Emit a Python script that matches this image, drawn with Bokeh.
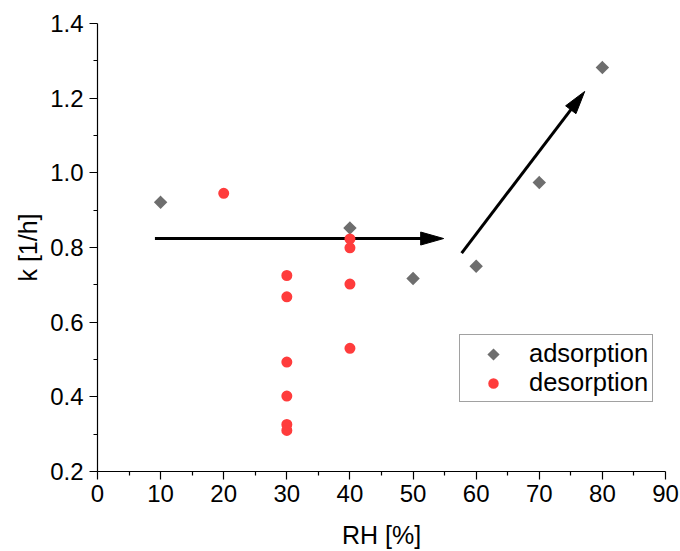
import numpy as np
from bokeh.plotting import figure
from bokeh.models import FixedTicker, PrintfTickFormatter, Range1d, Legend, LegendItem
from bokeh.embed import file_html
from bokeh.resources import INLINE

# ---- data ----
ads_rh = [10, 40, 50, 60, 70, 80]
ads_k = [0.921, 0.852, 0.717, 0.750, 0.974, 1.282]
des_rh = [20, 30, 30, 30, 30, 30, 30, 40, 40, 40, 40]
des_k = [0.945, 0.725, 0.668, 0.493, 0.402, 0.326, 0.310, 0.823, 0.799, 0.702, 0.530]

x_ticks = [0, 10, 20, 30, 40, 50, 60, 70, 80, 90]
y_ticks = [0.2, 0.4, 0.6, 0.8, 1.0, 1.2, 1.4]

# arrows (annotation): start x, start y, tip x, tip y
arrow_x0 = [9.1, 57.7]
arrow_y0 = [0.824, 0.785]
arrow_x1 = [54.85, 77.2]
arrow_y1 = [0.824, 1.218]

FONT = "Liberation Sans"
W, H = 680, 551
ML, MR, MT, MB = 97, 15, 23, 80
XMIN, XMAX, YMIN, YMAX = 0, 90, 0.2, 1.4

p = figure(width=W, height=H, output_backend="svg", toolbar_location=None,
           x_range=Range1d(XMIN, XMAX), y_range=Range1d(YMIN, YMAX),
           min_border_left=ML, min_border_right=MR, min_border_top=MT, min_border_bottom=MB)
p.grid.visible = False
p.outline_line_color = None
p.background_fill_color = "white"

# axes
p.xaxis.ticker = FixedTicker(ticks=x_ticks, minor_ticks=[v + 5 for v in x_ticks[:-1]])
p.yaxis.ticker = FixedTicker(ticks=y_ticks, minor_ticks=[round(v + 0.1, 2) for v in y_ticks[:-1]])
p.yaxis.formatter = PrintfTickFormatter(format="%.1f")
p.xaxis.formatter = PrintfTickFormatter(format="%d")
for ax in (p.xaxis, p.yaxis):
    ax.major_tick_in = 0
    ax.major_tick_out = 8
    ax.minor_tick_in = 0
    ax.minor_tick_out = 4
    ax.axis_line_color = "black"
    ax.major_tick_line_color = "black"
    ax.minor_tick_line_color = "black"
    ax.axis_line_width = 1.2
    ax.major_tick_line_width = 1.2
    ax.minor_tick_line_width = 1.2
    ax.major_label_text_font = FONT
    ax.major_label_text_font_size = "24px"
    ax.major_label_text_color = "black"
    ax.axis_label_text_font = FONT
    ax.axis_label_text_font_size = "25px"
    ax.axis_label_text_font_style = "normal"
    ax.axis_label_text_color = "black"
p.xaxis.axis_label = "RH [%]"
p.yaxis.axis_label = "k [1/h]"
p.xaxis.major_label_standoff = 5
p.xaxis.axis_label_standoff = 16
p.yaxis.major_label_standoff = 6
p.yaxis.axis_label_standoff = 5

# arrows: shaft + filled head computed in screen-proportional units
fw = W - ML - MR
fh = H - MT - MB
sx = fw / (XMAX - XMIN)
sy = fh / (YMAX - YMIN)
head_len, head_half = 23.0, 6.5
hx, hy, sx0, sy0, sx1, sy1 = [], [], [], [], [], []
for x0, y0, x1, y1 in zip(arrow_x0, arrow_y0, arrow_x1, arrow_y1):
    dxp = (x1 - x0) * sx
    dyp = (y1 - y0) * sy
    L = np.hypot(dxp, dyp)
    ux, uy = dxp / L, dyp / L
    bx_p, by_p = -ux * head_len, -uy * head_len
    px_, py_ = -uy * head_half, ux * head_half
    base_x = x1 + bx_p / sx
    base_y = y1 + by_p / sy
    hx.append([x1, base_x + px_ / sx, base_x - px_ / sx])
    hy.append([y1, base_y + py_ / sy, base_y - py_ / sy])
    sx0.append(x0); sy0.append(y0)
    sx1.append(x1 + (bx_p * 0.8) / sx); sy1.append(y1 + (by_p * 0.8) / sy)
p.segment(sx0, sy0, sx1, sy1, line_color="black", line_width=3)
p.patches(hx, hy, fill_color="black", line_color="black", line_width=1)

r_ads = p.ngon(x=ads_rh, y=ads_k, radius=4.6, radius_units="screen", n=4,
               fill_color="#6e6e6e", line_color="#6e6e6e", line_width=3,
               line_join="miter")
r_des = p.scatter(des_rh, des_k, marker="circle", size=8.5,
                  fill_color="#ff3c3c", line_color="#ff3c3c", line_width=2.5)

legend = Legend(items=[LegendItem(label="adsorption", renderers=[r_ads]),
                       LegendItem(label="desorption", renderers=[r_des])],
                location=(362, 69))
legend.padding = 4
legend.spacing = 0
legend.glyph_width = 58
legend.label_standoff = 7
legend.label_text_font = FONT
legend.label_text_font_size = "25.5px"
legend.label_text_color = "black"
legend.border_line_color = "#444444"
legend.border_line_width = 1
legend.background_fill_alpha = 1
p.add_layout(legend, "center")

open("out.html", "w").write(file_html(p, INLINE))
